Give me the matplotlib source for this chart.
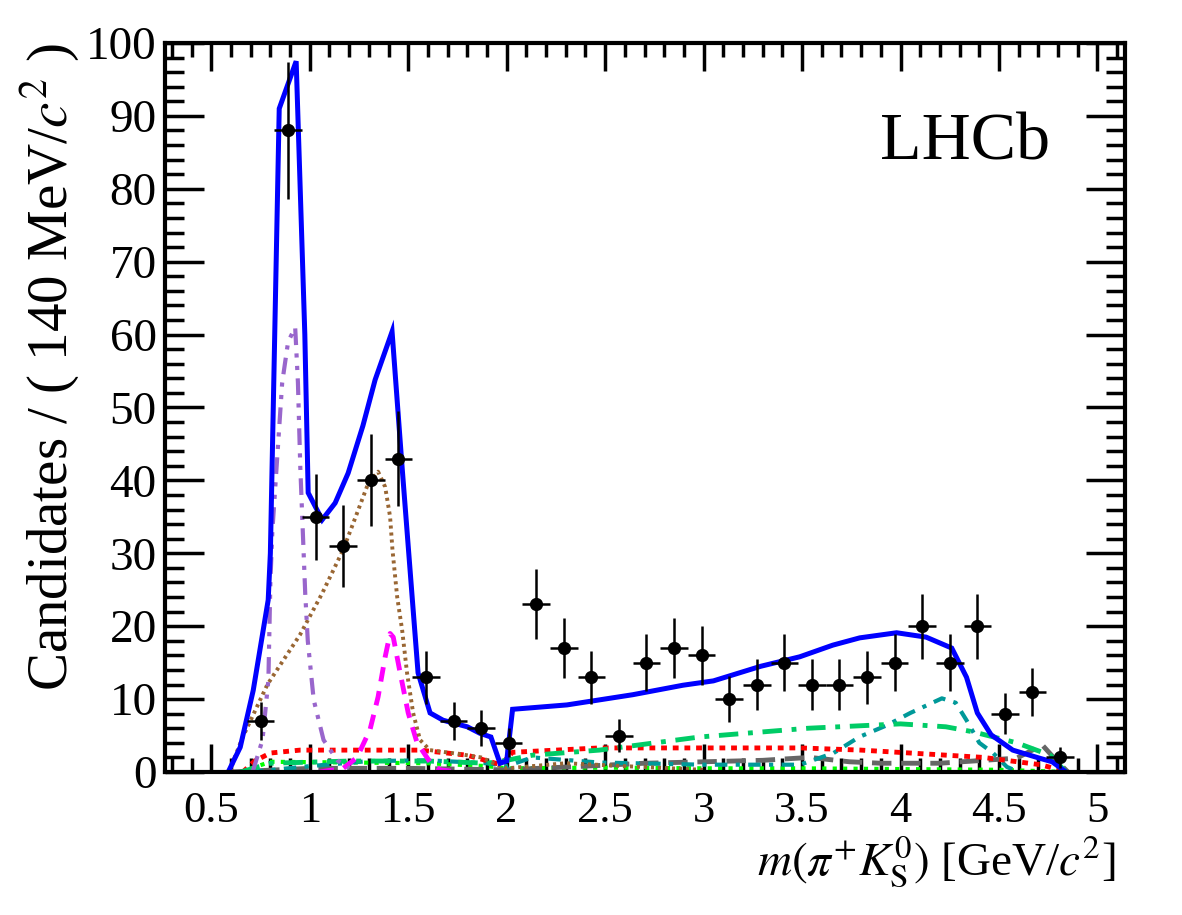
import numpy as np
import matplotlib
matplotlib.use('Agg')
import matplotlib.pyplot as plt
from matplotlib.ticker import MultipleLocator

plt.rcParams['font.family'] = ['Liberation Serif', 'DejaVu Serif']
plt.rcParams['mathtext.fontset'] = 'stix'

# data points (140 MeV bins)
bin_centres = 0.75 + 0.14 * np.arange(30)
counts = [7, 88, 35, 31, 40, 43, 13, 7, 6, 4,
          23, 17, 13, 5, 15, 17, 16, 10, 12, 15,
          12, 12, 13, 15, 20, 15, 20, 8, 11, 2]

# total fit
tot_x = [0.586, 0.647, 0.713, 0.789, 0.80, 0.845, 0.931, 0.975, 0.992, 1.063, 1.129, 1.195,
         1.27, 1.332, 1.418, 1.469, 1.52, 1.55, 1.611, 1.677, 1.80, 1.865, 1.92, 1.966,
         2.0, 2.03, 2.306, 2.64, 2.895, 3.05, 3.29, 3.488, 3.656, 3.793, 3.98, 4.13,
         4.26, 4.335, 4.39, 4.46, 4.57, 4.705, 4.77, 4.84]
tot_y = [0, 3.4, 11.2, 23.6, 30, 91, 97.5, 60, 38.3, 34.6, 36.9, 41,
         47.5, 53.8, 60.4, 41.8, 24, 13.6, 8.1, 7.1, 6.2, 5.3, 4.8, 1.2,
         1.5, 8.6, 9.2, 10.6, 11.9, 12.5, 14.5, 15.8, 17.4, 18.4, 19.1, 18.5,
         17, 13, 8.1, 5.1, 3, 1.9, 1.4, 0]

# components
kst_x = [0.71, 0.76, 0.79, 0.80, 0.81, 0.86, 0.89, 0.926, 0.94, 0.952, 0.977, 0.99, 1.02, 1.07, 1.14, 1.2]
kst_y = [0, 4.4, 12.6, 26, 33, 53.4, 59, 61, 53.4, 41.8, 24.5, 18, 9.9, 4.4, 1.6, 0.5]

swave_x = [0.6, 0.61, 0.66, 0.785, 0.95, 1.063, 1.17, 1.24, 1.297, 1.347, 1.383, 1.408, 1.42,
           1.444, 1.469, 1.494, 1.525, 1.56, 1.61, 1.75, 1.87, 1.95, 2.0, 2.3, 2.6, 3.0]
swave_y = [0, 1.4, 4.8, 12, 18.8, 24.5, 30.5, 35.5, 39.6, 41.2, 39.1, 35, 30.5,
           24, 19.5, 13.6, 8.1, 4.4, 3, 2.5, 2, 1, 0.5, 1.2, 0.8, 0.3]

k2_x = [1.05, 1.17, 1.24, 1.306, 1.347, 1.383, 1.408, 1.424, 1.459, 1.50, 1.545, 1.61, 1.66, 1.75]
k2_y = [0, 0.5, 2, 5.8, 10.3, 15.8, 19, 18.5, 13.6, 8.1, 4, 1.4, 0.3, 0]

red_x = [0.66, 0.72, 0.8, 0.95, 1.2, 1.56, 1.8, 1.97, 2.03, 2.47, 3.15, 3.49, 3.8, 4.05, 4.42, 4.71, 4.85]
red_y = [0, 1.5, 2.6, 3.0, 3.0, 3.0, 2.3, 1.0, 2.7, 3.3, 3.3, 3.3, 3.0, 2.6, 2.0, 1.0, 0]

grn_x = [0.65, 0.8, 1.2, 1.6, 1.9, 2.0, 2.13, 2.47, 2.98, 3.53, 4.0, 4.23, 4.37, 4.59, 4.76, 4.84]
grn_y = [0, 1.2, 1.5, 1.5, 1.2, 1.6, 2.3, 3.0, 4.8, 6.0, 6.6, 6.2, 5.5, 4.0, 2.3, 0]

teal_x = [0.7, 1.0, 1.3, 1.6, 1.9, 2.0, 2.13, 2.47, 3.0, 3.49, 3.66, 3.79, 3.93, 4.05, 4.21,
          4.28, 4.335, 4.40, 4.47, 4.54, 4.6]
teal_y = [0, 0.8, 1.5, 1.6, 1.2, 0.8, 2.0, 1.3, 1.0, 1.0, 2.6, 4.8, 6.4, 8.1, 10.1,
          9.5, 7.1, 4.0, 2.6, 0.7, 0]

gray_x = [0.6, 1.0, 1.5, 2.0, 2.4, 2.7, 3.0, 3.3, 3.54, 3.74, 3.9, 4.2, 4.59, 4.72, 4.79, 4.85]
gray_y = [0, 0.5, 0.5, 0.3, 0.8, 1.2, 1.4, 1.6, 2.0, 1.4, 1.2, 1.2, 1.9, 3.7, 1.6, 0]

lime_x = [0.65, 0.8, 1.2, 1.6, 1.9, 2.0, 2.5, 3.0, 3.5, 4.0, 4.5, 4.85]
lime_y = [0, 1.4, 1.3, 1.2, 0.8, 0.5, 0.6, 0.5, 0.5, 0.4, 0.3, 0]

mag_x = [0.6, 4.9]
mag_y = [0.15, 0.15]

fig = plt.figure(figsize=(11.82, 9.15), dpi=100)
ax = fig.add_axes([0.1396, 0.1563, 0.8122, 0.7967])

ax.plot(mag_x, mag_y, color='#ff00ff', lw=2)
ax.plot(lime_x, lime_y, color='#00ff00', lw=3, ls=(0, (1, 1.5)))
ax.plot(gray_x, gray_y, color='#666666', lw=3.5, ls=(0, (4, 2)))
ax.plot(teal_x, teal_y, color='#009999', lw=3, ls=(0, (3, 2, 1, 2)))
ax.plot(red_x, red_y, color='#ff0000', lw=3.5, ls=(0, (1.2, 1.2)))
ax.plot(grn_x, grn_y, color='#00cc66', lw=3.5, ls=(0, (4, 2, 1, 2)))
ax.plot(k2_x, k2_y, color='#ff00ff', lw=3.5, ls=(0, (3, 2)))
ax.plot(swave_x, swave_y, color='#996633', lw=2.8, ls=(0, (0.8, 1)))
ax.plot(kst_x, kst_y, color='#9966cc', lw=3, ls=(0, (4, 2, 1, 2, 1, 2)))
ax.plot(tot_x, tot_y, color='#0000ff', lw=3.6, solid_joinstyle='miter')

ax.errorbar(bin_centres, counts, xerr=0.07, yerr=np.sqrt(counts), fmt='o', color='black',
            ms=8.5, elinewidth=1.8, capsize=0)

ax.set_xlim(0.265, 5.14)
ax.set_ylim(0, 100)
ax.xaxis.set_major_locator(MultipleLocator(0.5))
ax.xaxis.set_minor_locator(MultipleLocator(0.1))
ax.yaxis.set_major_locator(MultipleLocator(10))
ax.yaxis.set_minor_locator(MultipleLocator(2))
ax.set_xticks([0.5, 1, 1.5, 2, 2.5, 3, 3.5, 4, 4.5, 5])
ax.set_xticklabels(['0.5', '1', '1.5', '2', '2.5', '3', '3.5', '4', '4.5', '5'])

ax.tick_params(axis='both', which='both', direction='in', top=True, right=True,
               labelsize=32, width=2.5)
ax.tick_params(axis='y', labelsize=34)
ax.tick_params(axis='x', which='major', length=20, pad=14)
ax.tick_params(axis='x', which='minor', length=10)
ax.tick_params(axis='y', which='major', length=28, pad=6)
ax.tick_params(axis='y', which='minor', length=14)
for s in ax.spines.values():
    s.set_linewidth(3)

ax.set_xlabel(r'$m(\pi^{+}K^{0}_{\rm S})$ [GeV/$c^{2}$]', fontsize=34, loc='right')
ax.set_ylabel(r'Candidates / ( 140 MeV/$c^{2}$ )', fontsize=41, loc='top')
ax.xaxis.set_label_coords(0.99, -0.085)
ax.yaxis.set_label_coords(-0.086, 1.0)

ax.text(0.922, 0.84, 'LHCb', transform=ax.transAxes, fontsize=49, ha='right', va='baseline')

fig.savefig('out.png', dpi=100)
